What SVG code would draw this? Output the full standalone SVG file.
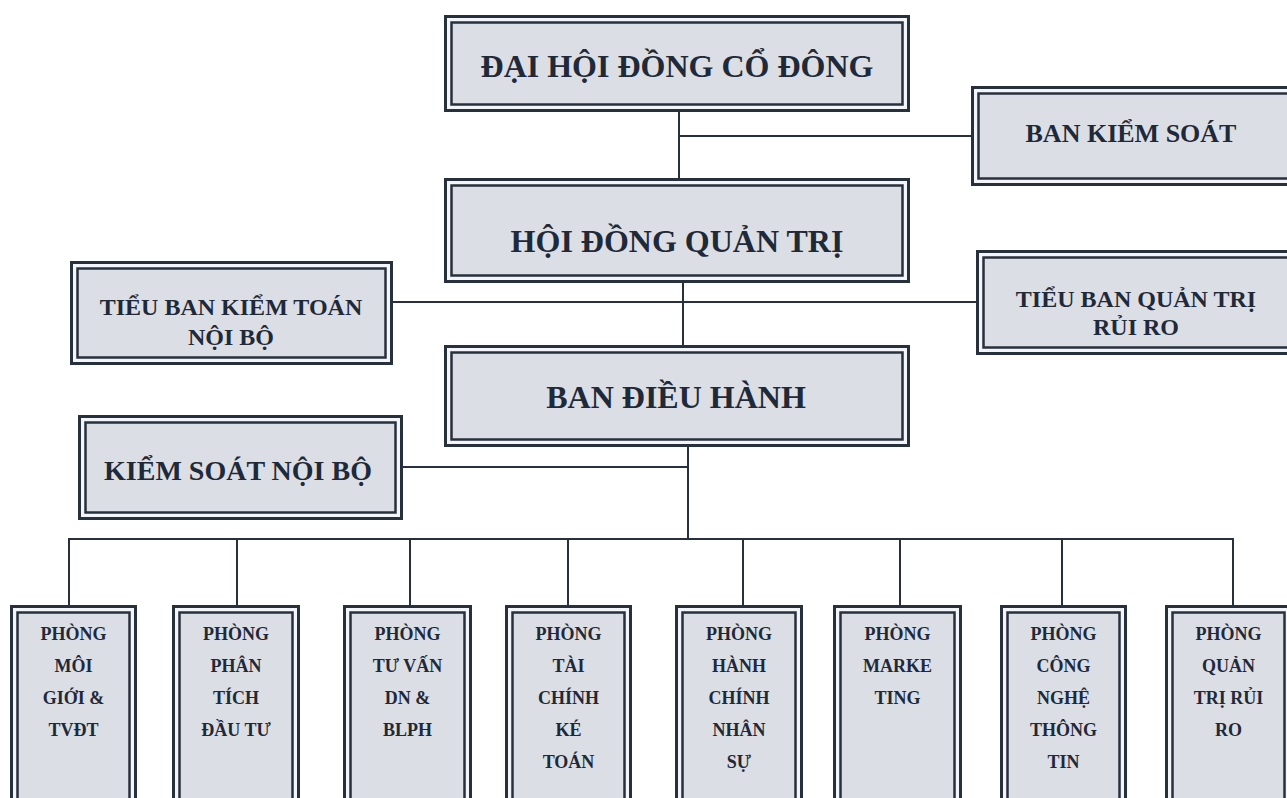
<svg xmlns="http://www.w3.org/2000/svg" width="1287" height="798" viewBox="0 0 1287 798">
<style>
.o{fill:#f4f5f8;stroke:#27303d;stroke-width:3}
.i{fill:#dcdee6;stroke:#27303d;stroke-width:2.5}
.t{font-family:"Liberation Serif","Times New Roman",serif;font-weight:bold;fill:#1f2937;text-anchor:middle}
.c{stroke:#27303d;stroke-width:2;fill:none}
</style>
<rect width="1287" height="798" fill="#ffffff"/>
<g id="connectors">
<line class="c" x1="679" y1="112" x2="679" y2="178"/>
<line class="c" x1="679" y1="136" x2="971" y2="136"/>
<line class="c" x1="683" y1="283" x2="683" y2="345"/>
<line class="c" x1="393" y1="302" x2="976" y2="302"/>
<line class="c" x1="688" y1="447" x2="688" y2="539"/>
<line class="c" x1="403" y1="467" x2="688" y2="467"/>
<line class="c" x1="68" y1="539" x2="1234" y2="539"/>
<line class="c" x1="69" y1="539" x2="69" y2="605"/>
<line class="c" x1="237" y1="539" x2="237" y2="605"/>
<line class="c" x1="410" y1="539" x2="410" y2="605"/>
<line class="c" x1="568" y1="539" x2="568" y2="605"/>
<line class="c" x1="743" y1="539" x2="743" y2="605"/>
<line class="c" x1="900" y1="539" x2="900" y2="605"/>
<line class="c" x1="1062" y1="539" x2="1062" y2="605"/>
<line class="c" x1="1233" y1="539" x2="1233" y2="605"/>
</g>
<g id="dhdcd">
<rect class="o" x="445.5" y="16.5" width="463" height="94"/>
<rect class="i" x="451.5" y="22.5" width="451" height="82"/>
<text class="t" x="677" y="77" font-size="32">ĐẠI HỘI ĐỒNG CỔ ĐÔNG</text>
</g>
<g id="bks">
<rect class="o" x="972.5" y="87.5" width="320" height="97"/>
<rect class="i" x="978.5" y="93.5" width="320" height="85"/>
<text class="t" x="1131" y="142" font-size="26">BAN KIỂM SOÁT</text>
</g>
<g id="hdqt">
<rect class="o" x="445.5" y="179.5" width="463" height="102"/>
<rect class="i" x="451.5" y="185.5" width="451" height="90"/>
<text class="t" x="677" y="252" font-size="32">HỘI ĐỒNG QUẢN TRỊ</text>
</g>
<g id="tbktnb">
<rect class="o" x="71.5" y="262.5" width="320" height="101"/>
<rect class="i" x="77.5" y="268.5" width="308" height="89"/>
<text class="t" x="231" y="315" font-size="24">TIỂU BAN KIỂM TOÁN</text>
<text class="t" x="231" y="345" font-size="24">NỘI BỘ</text>
</g>
<g id="tbqtrr">
<rect class="o" x="977.5" y="251.5" width="320" height="102"/>
<rect class="i" x="983.5" y="257.5" width="320" height="90"/>
<text class="t" x="1136" y="307" font-size="24">TIỂU BAN QUẢN TRỊ</text>
<text class="t" x="1136" y="335" font-size="24">RỦI RO</text>
</g>
<g id="bdh">
<rect class="o" x="445.5" y="346.5" width="463" height="99"/>
<rect class="i" x="451.5" y="352.5" width="451" height="87"/>
<text class="t" x="676" y="408" font-size="32">BAN ĐIỀU HÀNH</text>
</g>
<g id="ksnb">
<rect class="o" x="79.5" y="416.5" width="322" height="102"/>
<rect class="i" x="85.5" y="422.5" width="310" height="90"/>
<text class="t" x="238" y="480" font-size="28">KIỂM SOÁT NỘI BỘ</text>
</g>
<g id="p1">
<rect class="o" x="11.5" y="606.5" width="124" height="210"/>
<rect class="i" x="17.5" y="612.5" width="112" height="198"/>
<text class="t" x="73.5" font-size="18"><tspan x="73.5" y="640">PHÒNG</tspan><tspan x="73.5" y="672">MÔI</tspan><tspan x="73.5" y="704">GIỚI &amp;</tspan><tspan x="73.5" y="736">TVĐT</tspan></text>
</g>
<g id="p2">
<rect class="o" x="173.5" y="606.5" width="125" height="210"/>
<rect class="i" x="179.5" y="612.5" width="113" height="198"/>
<text class="t" x="236" font-size="18"><tspan x="236" y="640">PHÒNG</tspan><tspan x="236" y="672">PHÂN</tspan><tspan x="236" y="704">TÍCH</tspan><tspan x="236" y="736">ĐẦU TƯ</tspan></text>
</g>
<g id="p3">
<rect class="o" x="344.5" y="606.5" width="126" height="210"/>
<rect class="i" x="350.5" y="612.5" width="114" height="198"/>
<text class="t" x="407.5" font-size="18"><tspan x="407.5" y="640">PHÒNG</tspan><tspan x="407.5" y="672">TƯ VẤN</tspan><tspan x="407.5" y="704">DN &amp;</tspan><tspan x="407.5" y="736">BLPH</tspan></text>
</g>
<g id="p4">
<rect class="o" x="506.5" y="606.5" width="124" height="210"/>
<rect class="i" x="512.5" y="612.5" width="112" height="198"/>
<text class="t" x="568.5" font-size="18"><tspan x="568.5" y="640">PHÒNG</tspan><tspan x="568.5" y="672">TÀI</tspan><tspan x="568.5" y="704">CHÍNH</tspan><tspan x="568.5" y="736">KÉ</tspan><tspan x="568.5" y="768">TOÁN</tspan></text>
</g>
<g id="p5">
<rect class="o" x="676.5" y="606.5" width="125" height="210"/>
<rect class="i" x="682.5" y="612.5" width="113" height="198"/>
<text class="t" x="739" font-size="18"><tspan x="739" y="640">PHÒNG</tspan><tspan x="739" y="672">HÀNH</tspan><tspan x="739" y="704">CHÍNH</tspan><tspan x="739" y="736">NHÂN</tspan><tspan x="739" y="768">SỰ</tspan></text>
</g>
<g id="p6">
<rect class="o" x="834.5" y="606.5" width="126" height="210"/>
<rect class="i" x="840.5" y="612.5" width="114" height="198"/>
<text class="t" x="897.5" font-size="18"><tspan x="897.5" y="640">PHÒNG</tspan><tspan x="897.5" y="672">MARKE</tspan><tspan x="897.5" y="704">TING</tspan></text>
</g>
<g id="p7">
<rect class="o" x="1001.5" y="606.5" width="124" height="210"/>
<rect class="i" x="1007.5" y="612.5" width="112" height="198"/>
<text class="t" x="1063.5" font-size="18"><tspan x="1063.5" y="640">PHÒNG</tspan><tspan x="1063.5" y="672">CÔNG</tspan><tspan x="1063.5" y="704">NGHỆ</tspan><tspan x="1063.5" y="736">THÔNG</tspan><tspan x="1063.5" y="768">TIN</tspan></text>
</g>
<g id="p8">
<rect class="o" x="1166.5" y="606.5" width="124" height="210"/>
<rect class="i" x="1172.5" y="612.5" width="112" height="198"/>
<text class="t" x="1228.5" font-size="18"><tspan x="1228.5" y="640">PHÒNG</tspan><tspan x="1228.5" y="672">QUẢN</tspan><tspan x="1228.5" y="704">TRỊ RỦI</tspan><tspan x="1228.5" y="736">RO</tspan></text>
</g>
</svg>
